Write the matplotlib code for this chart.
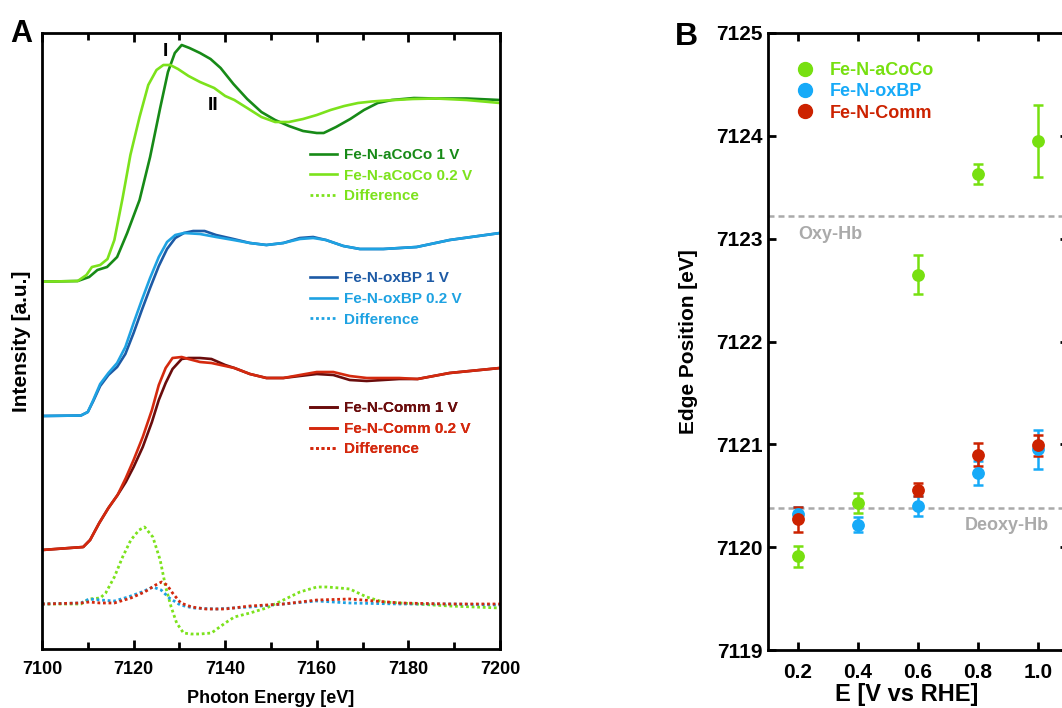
import matplotlib

matplotlib.use("Agg")

import matplotlib.pyplot as plt
import numpy as np
from matplotlib.lines import Line2D
from matplotlib.ticker import MultipleLocator

plt.rcParams["font.family"] = ["Liberation Sans", "DejaVu Sans"]
plt.rcParams["font.weight"] = "bold"

# ---- panel A: normalised XANES spectra (offset, a.u.) ----
aco_1v_e = [7100, 7107.8, 7110.3, 7112.1, 7114.2, 7116.4, 7118.6, 7121.3, 7123.6, 7125.8, 7127.5, 7129,
            7130.5, 7132.2, 7134.5, 7136.8, 7139, 7141.8, 7144.8, 7147.9, 7150.9, 7153.9, 7157, 7160,
            7161.5, 7164.2, 7167.3, 7170.3, 7173.3, 7176.4, 7181.2, 7186, 7192.7, 7200]
aco_1v_i = [3.673, 3.68, 3.72, 3.79, 3.82, 3.92, 4.16, 4.49, 4.92, 5.41, 5.77, 5.96,
            6.04, 6.01, 5.96, 5.90, 5.81, 5.65, 5.50, 5.37, 5.29, 5.23, 5.18, 5.16,
            5.16, 5.22, 5.30, 5.39, 5.46, 5.49, 5.51, 5.505, 5.505, 5.49]

aco_02v_e = [7100, 7107.8, 7109.7, 7110.9, 7112.7, 7114.3, 7115.8, 7117.6, 7119.3, 7121.3, 7123.2, 7125,
             7126.5, 7128, 7129.7, 7132, 7134.5, 7137.6, 7140, 7142, 7144.8, 7147.9, 7150.9, 7153.9,
             7157, 7160, 7163, 7166, 7169, 7172, 7175, 7181, 7186, 7192.7, 7200]
aco_02v_i = [3.673, 3.68, 3.74, 3.82, 3.84, 3.90, 4.09, 4.51, 4.94, 5.32, 5.64, 5.79,
             5.84, 5.84, 5.80, 5.73, 5.67, 5.61, 5.53, 5.49, 5.41, 5.32, 5.27, 5.27,
             5.30, 5.34, 5.39, 5.43, 5.46, 5.475, 5.485, 5.50, 5.505, 5.49, 5.46]

aco_diff_e = [7100, 7108.5, 7110.3, 7112.7, 7113.9, 7115.8, 7117.6, 7119.4, 7121.2, 7122.4, 7124.2, 7125.8,
              7127, 7128.2, 7129.4, 7130.9, 7132.5, 7134.5, 7137, 7140, 7142, 7145.4, 7149, 7152.7,
              7156.3, 7160, 7162.2, 7165, 7167.2, 7170.9, 7174.5, 7181.8, 7189, 7200]
aco_diff_i = [0.45, 0.45, 0.50, 0.51, 0.56, 0.72, 0.92, 1.09, 1.19, 1.22, 1.12, 0.89,
              0.62, 0.42, 0.26, 0.16, 0.15, 0.15, 0.16, 0.26, 0.32, 0.36, 0.41, 0.49,
              0.57, 0.62, 0.62, 0.61, 0.60, 0.52, 0.47, 0.45, 0.43, 0.41]

oxbp_02v_e = [7100, 7108.5, 7110, 7111.2, 7112.7, 7114.5, 7116.4, 7118.2, 7120, 7121.8, 7123.6, 7125.5,
              7127.3, 7129.1, 7131, 7134.5, 7138, 7141.8, 7145.4, 7149, 7152.7, 7156.3, 7159.2, 7162,
              7165.8, 7169.4, 7174.5, 7181.8, 7189, 7200]
oxbp_02v_i = [2.33, 2.335, 2.37, 2.49, 2.65, 2.76, 2.86, 3.02, 3.26, 3.49, 3.71, 3.92,
              4.07, 4.14, 4.16, 4.15, 4.12, 4.09, 4.06, 4.04, 4.06, 4.10, 4.11, 4.09,
              4.03, 4.00, 4.00, 4.02, 4.09, 4.16]

oxbp_1v_e = [7100, 7108.5, 7110, 7111.2, 7112.7, 7114.5, 7116.4, 7118.2, 7120, 7121.8, 7123.6, 7125.5,
             7127.3, 7129.1, 7131, 7133, 7135.5, 7138, 7141.8, 7145.4, 7149, 7152.7, 7156.3, 7159.2,
             7162, 7165.8, 7169.4, 7174.5, 7181.8, 7189, 7200]
oxbp_1v_i = [2.33, 2.335, 2.37, 2.48, 2.63, 2.74, 2.82, 2.95, 3.16, 3.39, 3.61, 3.83,
             4.00, 4.11, 4.16, 4.18, 4.18, 4.14, 4.10, 4.06, 4.04, 4.06, 4.11, 4.12,
             4.09, 4.03, 4.00, 4.00, 4.02, 4.09, 4.16]

oxbp_diff_e = [7100, 7108.5, 7110.3, 7112.7, 7115.8, 7118.8, 7121.8, 7124.2, 7126, 7127.8, 7130.2, 7133,
               7138, 7145.4, 7152.7, 7160, 7167.2, 7178.2, 7189, 7200]
oxbp_diff_i = [0.45, 0.46, 0.50, 0.49, 0.48, 0.52, 0.57, 0.62, 0.59, 0.51, 0.44, 0.41,
               0.40, 0.42, 0.45, 0.48, 0.46, 0.45, 0.45, 0.44]

comm_e = [7100, 7109, 7110.5, 7112.5, 7114.5, 7116.5, 7118.3, 7120, 7122, 7124, 7125.5, 7127,
          7128.5, 7130.5, 7132, 7134.5, 7137, 7140, 7142, 7145.4, 7149, 7152.7, 7156.3, 7160,
          7163.6, 7167.2, 7170.9, 7178, 7182, 7189, 7200]
comm_02v_i = [0.99, 1.02, 1.09, 1.26, 1.41, 1.54, 1.71, 1.89, 2.12, 2.39, 2.64, 2.81,
              2.91, 2.92, 2.90, 2.87, 2.86, 2.83, 2.81, 2.75, 2.71, 2.71, 2.74, 2.77,
              2.77, 2.73, 2.71, 2.71, 2.70, 2.76, 2.81]
comm_1v_i = [0.99, 1.02, 1.09, 1.26, 1.41, 1.54, 1.67, 1.82, 2.02, 2.27, 2.49, 2.66,
             2.80, 2.90, 2.91, 2.91, 2.90, 2.84, 2.81, 2.75, 2.71, 2.71, 2.73, 2.75,
             2.74, 2.69, 2.68, 2.70, 2.70, 2.76, 2.81]

comm_diff_e = [7100, 7108.5, 7110.3, 7112.7, 7115.8, 7119.4, 7122.4, 7124.8, 7126.1, 7127.3, 7128.5, 7130.3,
               7132.7, 7135.8, 7140, 7145.4, 7152.7, 7160, 7167.2, 7178.2, 7189, 7200]
comm_diff_i = [0.45, 0.46, 0.47, 0.46, 0.46, 0.51, 0.57, 0.64, 0.67, 0.64, 0.56, 0.46,
               0.42, 0.40, 0.40, 0.43, 0.45, 0.49, 0.50, 0.46, 0.45, 0.45]

# ---- panel B: edge positions ----
potential = [0.2, 0.4, 0.6, 0.8, 1.0]
edge_aco = [7119.91, 7120.43, 7122.65, 7123.63, 7123.95]
edge_aco_err = [0.10, 0.10, 0.19, 0.10, 0.35]
edge_oxbp = [7120.32, 7120.22, 7120.40, 7120.72, 7120.95]
edge_oxbp_err = [0.07, 0.07, 0.10, 0.12, 0.19]
edge_comm = [7120.27, np.nan, 7120.56, 7120.90, 7120.99]
edge_comm_err = [0.12, np.nan, 0.06, 0.11, 0.10]
oxy_hb = 7123.22
deoxy_hb = 7120.38

C_ACO_D, C_ACO_L = "#178a17", "#7ce21c"
C_OX_D, C_OX_L = "#1d5aa5", "#1ea2e2"
C_CO_D, C_CO_L = "#6a0c0c", "#d4290e"
C_B_GREEN, C_B_BLUE, C_B_RED = "#77e010", "#16aaf8", "#cc2200"
GRAY = "#aaaaaa"
DOT = (0, (1, 1))

fig = plt.figure(figsize=(10.62, 7.08), dpi=100)
axA = fig.add_axes([42 / 1062, 59 / 708, 458 / 1062, 616 / 708])
axB = fig.add_axes([768 / 1062, 58 / 708, 300 / 1062, 617 / 708])

lw = 1.9
groups = [
    ((aco_1v_e, aco_1v_i), (aco_02v_e, aco_02v_i), (aco_diff_e, aco_diff_i), C_ACO_D, C_ACO_L,
     ["Fe-N-aCoCo 1 V", "Fe-N-aCoCo 0.2 V", "Difference"], 0.8133),
    ((oxbp_1v_e, oxbp_1v_i), (oxbp_02v_e, oxbp_02v_i), (oxbp_diff_e, oxbp_diff_i), C_OX_D, C_OX_L,
     ["Fe-N-oxBP 1 V", "Fe-N-oxBP 0.2 V", "Difference"], 0.613),
    ((comm_e, comm_1v_i), (comm_e, comm_02v_i), (comm_diff_e, comm_diff_i), C_CO_D, C_CO_L,
     ["Fe-N-Comm 1 V", "Fe-N-Comm 0.2 V", "Difference"], 0.4021),
]
for one, low, diff, cd, cl, labels, ytop in groups:
    h1, = axA.plot(one[0], one[1], color=cd, lw=lw)
    h2, = axA.plot(low[0], low[1], color=cl, lw=lw)
    h3, = axA.plot(diff[0], diff[1], color=cl, lw=2.0, linestyle=DOT)
    leg = axA.legend([h1, h2, h3], labels, loc="upper left", bbox_to_anchor=(0.585, ytop),
                     frameon=False, handlelength=1.75, handletextpad=0.5,
                     labelspacing=0.43, borderpad=0, borderaxespad=0,
                     labelcolor=[cd, cl, cl], prop={"weight": "bold", "size": 11})
    axA.add_artist(leg)

axA.text(7127, 5.97, "I", ha="center", va="center", fontsize=14, fontweight="bold")
axA.text(7137.3, 5.44, "II", ha="center", va="center", fontsize=14, fontweight="bold")

axA.set_xlim(7100, 7200)
axA.set_ylim(0, 6.16)
axA.xaxis.set_major_locator(MultipleLocator(20))
axA.xaxis.set_minor_locator(MultipleLocator(10))
axA.tick_params(axis="x", which="major", direction="in", top=True, length=6.5, width=2,
                labelsize=13, pad=9)
axA.tick_params(axis="x", which="minor", direction="in", top=True, length=5, width=2)
axA.tick_params(axis="y", left=False, labelleft=False)
axA.set_xlabel("Photon Energy [eV]", fontsize=13, fontweight="bold", labelpad=8)
axA.set_ylabel("Intensity [a.u.]", fontsize=15, fontweight="bold")
axA.yaxis.set_label_coords(-0.025, 0.5)
for sp in axA.spines.values():
    sp.set_linewidth(2)

# panel B
axB.axhline(oxy_hb, color=GRAY, lw=1.8, linestyle=(0, (2.4, 1.6)), zorder=1)
axB.axhline(deoxy_hb, color=GRAY, lw=1.8, linestyle=(0, (2.4, 1.6)), zorder=1)
axB.text(0.2, oxy_hb - 0.18, "Oxy-Hb", color=GRAY, fontsize=13, fontweight="bold",
         ha="left", va="center")
axB.text(1.037, deoxy_hb - 0.17, "Deoxy-Hb", color=GRAY, fontsize=13, fontweight="bold",
         ha="right", va="center")

for vals, errs, col in [(edge_aco, edge_aco_err, C_B_GREEN),
                        (edge_oxbp, edge_oxbp_err, C_B_BLUE),
                        (edge_comm, edge_comm_err, C_B_RED)]:
    axB.errorbar(potential, vals, yerr=errs, fmt="o", color=col, ms=8.2, elinewidth=1.8,
                 capsize=3.6, capthick=1.8, zorder=3)

handles = [Line2D([], [], marker="o", linestyle="none", color=c, ms=10)
           for c in (C_B_GREEN, C_B_BLUE, C_B_RED)]
axB.legend(handles, ["Fe-N-aCoCo", "Fe-N-oxBP", "Fe-N-Comm"], loc="upper left",
           bbox_to_anchor=(0.093, 0.953), frameon=False, handlelength=1.0, handletextpad=0.9,
           labelspacing=0.24, borderpad=0, borderaxespad=0,
           labelcolor=[C_B_GREEN, C_B_BLUE, C_B_RED], prop={"weight": "bold", "size": 13})

axB.set_xlim(0.1, 1.1)
axB.set_ylim(7119, 7125)
axB.set_xticks(potential)
axB.set_xticklabels([f"{p:.1f}" for p in potential])
axB.set_yticks(np.arange(7119, 7126, 1))
axB.tick_params(axis="both", direction="in", top=True, right=True, length=5.5, width=2,
                labelsize=15)
axB.tick_params(axis="x", pad=9)
axB.tick_params(axis="y", pad=4)
axB.set_xlabel("E [V vs RHE]", fontsize=17, fontweight="bold")
axB.xaxis.set_label_coords(0.463, -0.054)
axB.set_ylabel("Edge Position [eV]", fontsize=15, fontweight="bold")
axB.yaxis.set_label_coords(-0.233, 0.5)
for sp in axB.spines.values():
    sp.set_linewidth(2)

fig.text(10 / 1062, 1 - 42 / 708, "A", fontsize=22, fontweight="bold", va="baseline")
fig.text(675 / 1062, 1 - 45 / 708, "B", fontsize=23, fontweight="bold", va="baseline")

fig.savefig("out.png", dpi=100)
